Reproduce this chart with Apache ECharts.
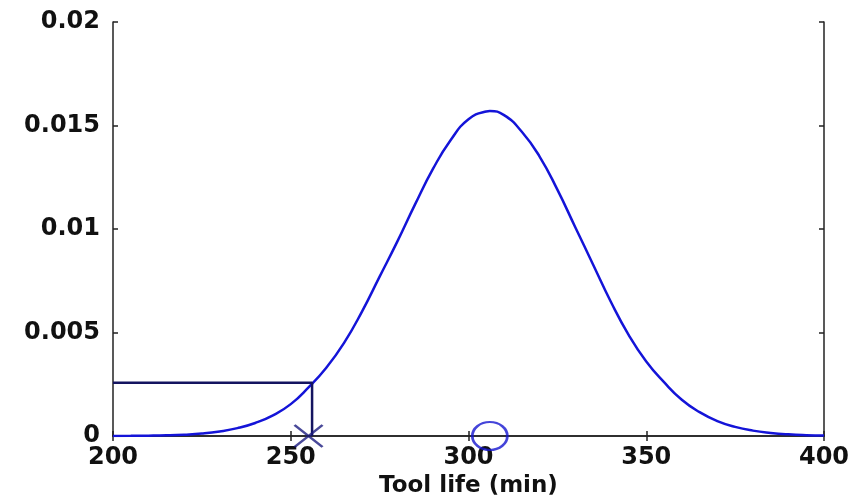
<!DOCTYPE html>
<html>
<head>
<meta charset="utf-8">
<script src="https://cdn.jsdelivr.net/npm/echarts@6/dist/echarts.min.js"></script>
<style>html,body{margin:0;padding:0;background:#fff;}#chart{width:857px;height:499px;}</style>
</head>
<body>
<div id="chart"></div>
<script>
// Tool life (min) values and estimated probability density
var toolLife = [200,205,210,215,220,225,230,235,240,245,250,255,260,265,270,275,280,285,290,295,300,305,306,310,315,320,325,330,335,340,345,350,355,360,365,370,375,380,385,390,395,400];
var density  = [0.000004,0.000008,0.000017,0.000034,0.000066,0.00012,0.00022,0.00038,0.00063,0.0010,0.00154,0.00235,0.0033,0.0045,0.0060,0.0077,0.0094,0.0112,0.0129,0.0143,0.0153,0.01568,0.0157,0.0155,0.0147,0.0135,0.0119,0.0101,0.0083,0.0065,0.0049,0.0036,0.0026,0.00175,0.00115,0.00072,0.00044,0.00026,0.00015,0.00008,0.00004,0.00002];
var xTicks = [200, 250, 300, 350, 400];
var yTicks = [0, 0.005, 0.01, 0.015, 0.02];
var quantileLife = 256;       // marked tool life
var quantileDensity = 0.00257; // density at the marked tool life
var meanLife = 306;           // circle marker position

var chart = echarts.init(document.getElementById('chart'), null, {renderer: 'canvas'});
var font = 'DejaVu Sans, Liberation Sans, Arial, sans-serif';
var axisLine = {show: true, lineStyle: {color: '#222', width: 1.5}};
var tickIn = {show: true, inside: true, length: 5, lineStyle: {color: '#222', width: 1.5}};

var option = {
  animation: false,
  backgroundColor: '#ffffff',
  grid: {left: 113, right: 33, top: 22, bottom: 63, containLabel: false, outerBoundsMode: 'none'},
  xAxis: [{
    type: 'value', min: xTicks[0], max: xTicks[xTicks.length - 1], interval: 50,
    name: 'Tool life (min)', nameLocation: 'middle', nameGap: 38,
    nameTextStyle: {fontFamily: font, fontSize: 23, fontWeight: 'bold', color: '#111'},
    axisLine: axisLine, axisTick: tickIn, splitLine: {show: false},
    axisLabel: {fontFamily: font, fontSize: 24, fontWeight: 'bold', color: '#111', margin: 10}
  }, {
    type: 'value', position: 'top', min: xTicks[0], max: xTicks[xTicks.length - 1], interval: 50,
    axisLine: axisLine, axisTick: tickIn, axisLabel: {show: false}, splitLine: {show: false}
  }],
  yAxis: [{
    type: 'value', min: yTicks[0], max: yTicks[yTicks.length - 1], interval: 0.005,
    axisLine: axisLine, axisTick: tickIn, splitLine: {show: false},
    axisLabel: {fontFamily: font, fontSize: 24, fontWeight: 'bold', color: '#111', margin: 13,
      formatter: function (v) { return String(+v.toFixed(3)); }}
  }, {
    type: 'value', position: 'right', min: yTicks[0], max: yTicks[yTicks.length - 1], interval: 0.005,
    axisLine: axisLine, axisTick: tickIn, axisLabel: {show: false}, splitLine: {show: false}
  }],
  series: [{
    type: 'line',
    data: toolLife.map(function (x, i) { return [x, density[i]]; }),
    smooth: true, showSymbol: false,
    lineStyle: {color: '#1414d8', width: 2.5},
    z: 3
  }, {
    type: 'line',
    data: [[xTicks[0], quantileDensity], [quantileLife, quantileDensity], [quantileLife, 0]],
    showSymbol: false,
    lineStyle: {color: '#141460', width: 2.5},
    z: 4
  }, {
    type: 'scatter',
    data: [[quantileLife - 1, 0]],
    symbol: 'path://M0,0L10,8M10,0L0,8',
    symbolSize: [28, 22],
    itemStyle: {color: 'none', borderColor: '#1c1c80', borderWidth: 2.5},
    z: 5
  }, {
    type: 'scatter',
    data: [[meanLife, 0]],
    symbol: 'circle',
    symbolSize: [35, 28],
    itemStyle: {color: 'rgba(0,0,0,0)', borderColor: '#1515d0', borderWidth: 2.5},
    z: 5
  }]
};
chart.setOption(option);
</script>
</body>
</html>
